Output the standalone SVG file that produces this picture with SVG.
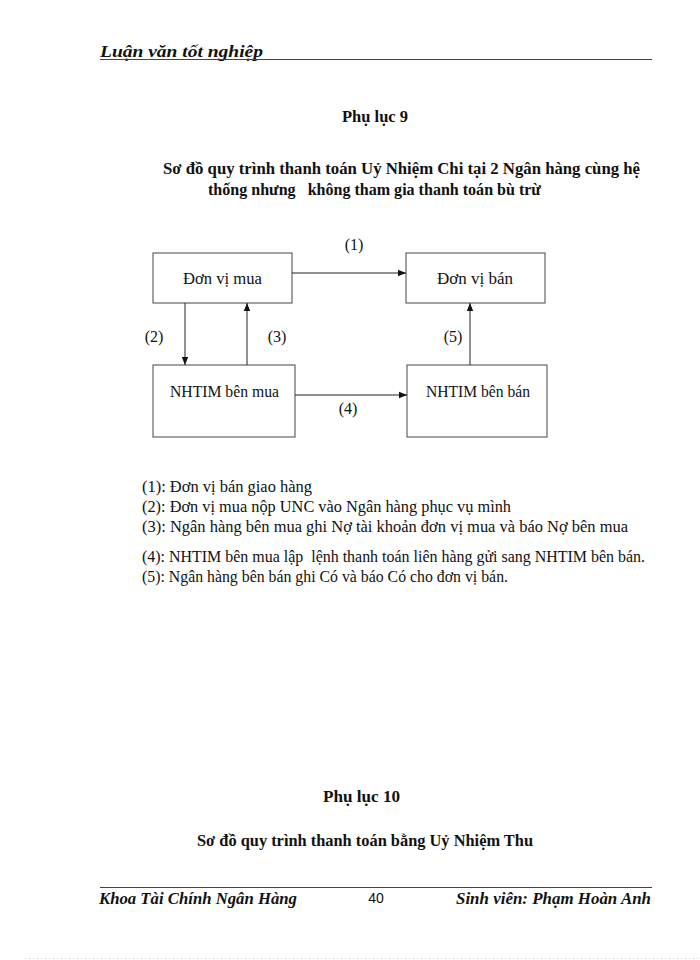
<svg xmlns="http://www.w3.org/2000/svg" width="700" height="960" viewBox="0 0 700 960">
<defs>
<style>
.t{font-family:"Liberation Serif","Times New Roman",serif;font-size:16px;fill:#111}
.b{font-weight:bold}
.hi{font-family:"Liberation Serif","Times New Roman",serif;font-size:17px;font-weight:bold;font-style:italic;fill:#111}
.box{fill:#fff;stroke:#444;stroke-width:1}
.ln{stroke:#222;stroke-width:1;fill:none}
</style>
<marker id="ah" viewBox="0 0 10 10" refX="10" refY="5" markerWidth="8" markerHeight="8" orient="auto" markerUnits="userSpaceOnUse">
<path d="M0,1 L10,5 L0,9 z" fill="#111"/>
</marker>
</defs>
<rect width="700" height="960" fill="#fff"/>
<!-- header -->
<text class="hi" x="100" y="57" textLength="163" lengthAdjust="spacingAndGlyphs">Luận văn tốt nghiệp</text>
<line x1="100" y1="59.5" x2="652" y2="59.5" stroke="#444" stroke-width="1"/>
<!-- titles -->
<text class="t b" x="342" y="122" textLength="66" lengthAdjust="spacingAndGlyphs">Phụ lục 9</text>
<text class="t b" x="163" y="174" textLength="477" lengthAdjust="spacingAndGlyphs">Sơ đồ quy trình thanh toán Uỷ Nhiệm Chi tại 2 Ngân hàng cùng hệ</text>
<text class="t b" x="208" y="195" textLength="333" lengthAdjust="spacingAndGlyphs" xml:space="preserve">thống nhưng   không tham gia thanh toán bù trừ</text>
<!-- nodes -->
<g id="don-vi-mua"><rect class="box" x="153" y="253" width="139" height="50"/><text class="t" x="183" y="284" textLength="79" lengthAdjust="spacingAndGlyphs">Đơn vị mua</text></g>
<g id="don-vi-ban"><rect class="box" x="406" y="253" width="139" height="50"/><text class="t" x="437" y="284" textLength="76" lengthAdjust="spacingAndGlyphs">Đơn vị bán</text></g>
<g id="nhtm-ben-mua"><rect class="box" x="153" y="365" width="142" height="72"/><text class="t" x="170" y="397" textLength="109" lengthAdjust="spacingAndGlyphs">NHTIM bên mua</text></g>
<g id="nhtm-ben-ban"><rect class="box" x="407" y="365" width="140" height="72"/><text class="t" x="426" y="397" textLength="104" lengthAdjust="spacingAndGlyphs">NHTIM bên bán</text></g>
<!-- connectors -->
<g id="connectors">
<line class="ln" x1="292" y1="273" x2="406" y2="273" marker-end="url(#ah)"/>
<line class="ln" x1="185" y1="303" x2="185" y2="365" marker-end="url(#ah)"/>
<line class="ln" x1="247" y1="365" x2="247" y2="303" marker-end="url(#ah)"/>
<line class="ln" x1="295" y1="395" x2="407" y2="395" marker-end="url(#ah)"/>
<line class="ln" x1="470" y1="365" x2="470" y2="303" marker-end="url(#ah)"/>
<text class="t" x="354" y="250" text-anchor="middle">(1)</text>
<text class="t" x="154" y="342" text-anchor="middle">(2)</text>
<text class="t" x="277" y="342" text-anchor="middle">(3)</text>
<text class="t" x="348" y="414" text-anchor="middle">(4)</text>
<text class="t" x="453" y="342" text-anchor="middle">(5)</text>
</g>
<!-- legend -->
<text class="t" x="142" y="492" textLength="170" lengthAdjust="spacingAndGlyphs">(1): Đơn vị bán giao hàng</text>
<text class="t" x="142" y="512" textLength="369" lengthAdjust="spacingAndGlyphs">(2): Đơn vị mua nộp UNC vào Ngân hàng phục vụ mình</text>
<text class="t" x="142" y="532" textLength="486" lengthAdjust="spacingAndGlyphs">(3): Ngân hàng bên mua ghi Nợ tài khoản đơn vị mua và báo Nợ bên mua</text>
<text class="t" x="142" y="562" textLength="503" lengthAdjust="spacingAndGlyphs" xml:space="preserve">(4): NHTIM bên mua lập  lệnh thanh toán liên hàng gửi sang NHTIM bên bán.</text>
<text class="t" x="142" y="582" textLength="366" lengthAdjust="spacingAndGlyphs">(5): Ngân hàng bên bán ghi Có và báo Có cho đơn vị bán.</text>
<!-- second appendix -->
<text class="t b" x="323" y="802" textLength="77" lengthAdjust="spacingAndGlyphs">Phụ lục 10</text>
<text class="t b" x="197" y="846" textLength="336" lengthAdjust="spacingAndGlyphs">Sơ đồ quy trình thanh toán bằng Uỷ Nhiệm Thu</text>
<!-- footer -->
<line x1="100" y1="887.5" x2="652" y2="887.5" stroke="#444" stroke-width="1"/>
<text class="hi" x="99" y="904" textLength="198" lengthAdjust="spacingAndGlyphs">Khoa Tài Chính Ngân Hàng</text>
<text x="376" y="903" text-anchor="middle" font-family="Liberation Sans, Arial, sans-serif" font-size="14" fill="#111">40</text>
<text class="hi" x="456" y="904" textLength="195" lengthAdjust="spacingAndGlyphs">Sinh viên: Phạm Hoàn Anh</text>
<line x1="25" y1="958.5" x2="700" y2="958.5" stroke="#ccc" stroke-width="1" stroke-dasharray="1,3"/>
</svg>
